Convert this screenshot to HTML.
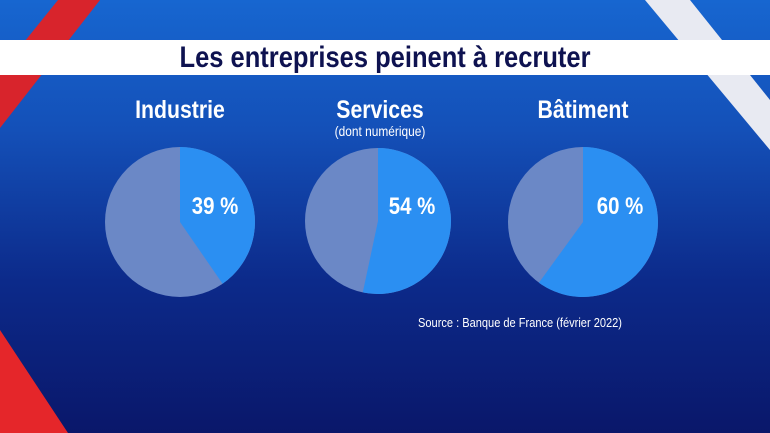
<!DOCTYPE html>
<html><head><meta charset="utf-8"><style>
body{margin:0;width:770px;height:433px;overflow:hidden;font-family:"Liberation Sans",sans-serif}
#c{position:relative;width:770px;height:433px;background:linear-gradient(180deg,#1766d0 0%,#1450b8 30%,#0c2a8a 65%,#0a176a 100%)}
.t{position:absolute;color:#fff;font-weight:bold;text-align:center;transform:scaleX(0.85)}
</style></head><body><div id="c">
<svg width="770" height="433" style="position:absolute;left:0;top:0">
<polygon points="58,0 100,0 0,128 0,72" fill="#d8242c"/>
<polygon points="645,0 690,0 770,100 770,150" fill="#e8eaf2"/>
<polygon points="0,330 68,433 0,433" fill="#e5262a"/>
<rect x="0" y="40" width="770" height="35" fill="#fff"/>
<g>
<circle cx="180" cy="222" r="75" fill="#6b88c6"/>
<path d="M180,222 L180,147 A75,75 0 0 1 222.6,283.7 Z" fill="#2b8ff2"/>
<circle cx="378" cy="221" r="73" fill="#6b88c6"/>
<path d="M378,221 L378,148 A73,73 0 1 1 362.8,292.4 Z" fill="#2b8ff2"/>
<circle cx="583" cy="222" r="75" fill="#6b88c6"/>
<path d="M583,222 L583,147 A75,75 0 1 1 538.9,282.7 Z" fill="#2b8ff2"/>
</g>
</svg>
<div class="t" style="left:0;width:770px;top:40px;font-size:30px;line-height:35px;color:#0e1250">Les entreprises peinent à recruter</div>
<div class="t" style="left:80px;width:200px;top:96px;font-size:25px">Industrie</div>
<div class="t" style="left:280px;width:200px;top:96px;font-size:25px">Services</div>
<div class="t" style="left:280px;width:200px;top:123px;font-size:14px;font-weight:normal">(dont numérique)</div>
<div class="t" style="left:483px;width:200px;top:96px;font-size:25px">Bâtiment</div>
<div class="t" style="left:175px;width:80px;top:193px;font-size:24px">39 %</div>
<div class="t" style="left:372px;width:80px;top:193px;font-size:24px">54 %</div>
<div class="t" style="left:580px;width:80px;top:193px;font-size:24px">60 %</div>
<div class="t" style="left:400px;width:240px;top:315px;font-size:13px;font-weight:normal">Source : Banque de France (février 2022)</div>
</div></body></html>
